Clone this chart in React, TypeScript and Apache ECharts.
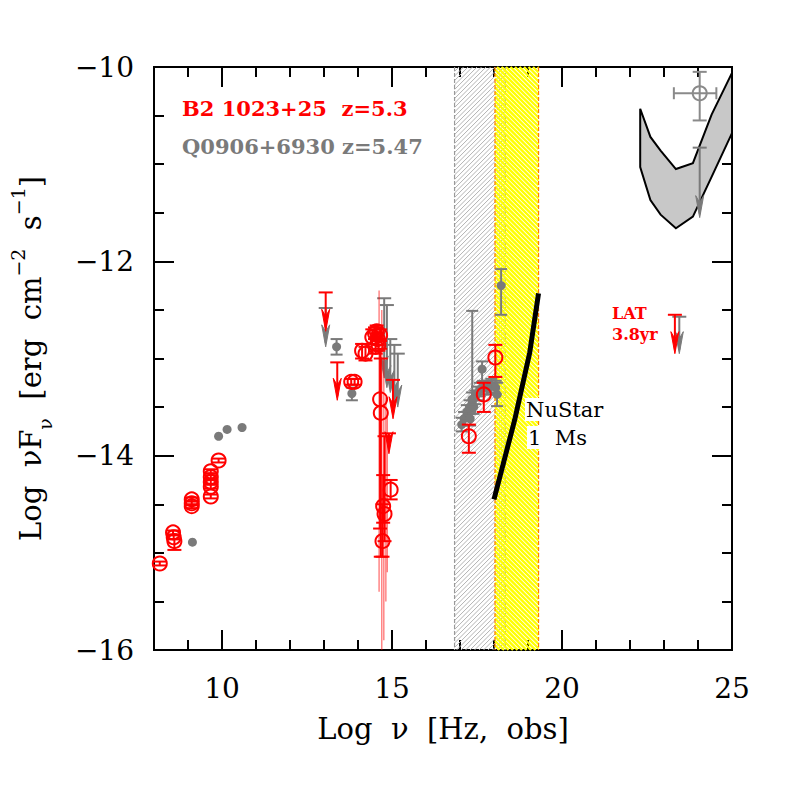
import React, { useEffect, useRef } from 'react';
import * as echarts from 'echarts';

// ---- axis ticks ----
const xMinorTicks = [8, 9, 10, 11, 12, 13, 14, 15, 16, 17, 18, 19, 20, 21, 22, 23, 24, 25];
const xMajorTicks = [10, 15, 20, 25];
const yMinorTicks = [-16, -15.5, -15, -14.5, -14, -13.5, -13, -12.5, -12, -11.5, -11, -10.5, -10];
const yMajorTicks = [-16, -14, -12, -10];

// ---- shaded bands [xStart, xEnd] : Swift/XRT-like (gray), NuSTAR (yellow) ----
const grayBand = [16.84, 18.33];
const yellowBand = [18.03, 19.31];

// ---- B2 1023+25 (red open circles): [logNu, logNuFnu, low, high] ----
const redPoints = [
  [8.17, -15.11, -15.13, -15.09],
  [8.56, -14.79, -14.81, -14.77],
  [8.58, -14.84, -14.86, -14.82],
  [8.6, -14.88, -14.97, -14.86],
  [9.11, -14.45, -14.47, -14.43],
  [9.11, -14.49, -14.51, -14.47],
  [9.11, -14.52, -14.54, -14.5],
  [9.67, -14.16, -14.18, -14.14],
  [9.67, -14.22, -14.24, -14.2],
  [9.67, -14.27, -14.29, -14.25],
  [9.67, -14.32, -14.34, -14.3],
  [9.67, -14.42, -14.44, -14.4],
  [9.9, -14.05, -14.07, -14.03],
  [13.8, -13.24, -13.27, -13.21],
  [13.9, -13.24, -13.27, -13.21],
  [14.12, -12.92, -13.0, -12.85],
  [14.22, -12.95, -13.02, -12.88],
  [14.42, -12.78, -12.85, -12.7],
  [14.5, -12.74, -12.8, -12.68],
  [14.55, -12.72, -12.78, -12.66],
  [14.58, -12.8, -12.86, -12.74],
  [14.6, -12.86, -12.92, -12.8],
  [14.52, -12.88, -12.95, -12.8],
  [14.65, -12.76, -12.82, -12.7],
  [14.65, -13.42, -14.75, -12.9],
  [14.67, -13.56, -15.04, -13.0],
  [14.74, -14.52, -14.69, -14.2],
  [14.72, -14.88, -15.04, -14.5],
  [14.96, -14.35, -14.45, -14.25],
  [14.78, -14.6, -14.88, -13.8],
  [17.26, -13.8, -13.97, -13.68],
  [17.7, -13.37, -13.55, -13.25],
  [18.04, -12.99, -13.19, -12.86],
];

// red upper limits: [logNu, cap, arrow tip]
const redUpperLimits = [
  [13.05, -12.32, -12.72],
  [13.39, -13.04, -13.43],
  [15.03, -13.22, -13.62],
  [14.91, -13.77, -13.98],
  [23.32, -12.55, -12.95],
];

// faint red error lines: [logNu, top, bottom]
const redFaintLines = [
  [14.62, -12.3, -15.4],
  [14.7, -12.5, -16.0],
  [14.76, -13.0, -15.9],
  [14.82, -13.4, -15.5],
  [14.86, -13.6, -15.2],
];

// ---- Q0906+6930 (gray filled dots): [logNu, logNuFnu, low, high, xLow, xHigh] ----
const grayPoints = [
  [9.13, -14.89, -14.89, -14.89, 9.13, 9.13],
  [9.9, -13.8, -13.8, -13.8, 9.9, 9.9],
  [10.15, -13.73, -13.73, -13.73, 10.15, 10.15],
  [10.59, -13.71, -13.71, -13.71, 10.59, 10.59],
  [13.37, -12.88, -12.96, -12.8, 13.37, 13.37],
  [13.82, -13.36, -13.43, -13.3, 13.82, 13.82],
  [18.21, -12.25, -12.55, -12.08, 18.21, 18.21],
  [17.36, -13.45, -13.5, -12.51, 17.36, 17.36],
  [17.65, -13.11, -13.24, -13.03, 17.55, 17.75],
  [18.09, -13.37, -13.49, -13.25, 17.95, 18.2],
  [17.05, -13.68, -13.75, -13.61, 16.98, 17.12],
  [17.12, -13.62, -13.69, -13.55, 17.05, 17.19],
  [17.2, -13.55, -13.62, -13.48, 17.13, 17.27],
  [17.28, -13.5, -13.57, -13.43, 17.21, 17.35],
  [17.3, -13.62, -13.69, -13.55, 17.23, 17.37],
  [17.35, -13.42, -13.49, -13.35, 17.28, 17.42],
  [17.4, -13.5, -13.57, -13.43, 17.33, 17.47],
  [17.45, -13.4, -13.47, -13.33, 17.38, 17.52],
  [17.5, -13.36, -13.43, -13.29, 17.43, 17.57],
  [17.58, -13.32, -13.39, -13.25, 17.5, 17.66],
  [17.68, -13.3, -13.37, -13.23, 17.6, 17.76],
  [17.8, -13.3, -13.37, -13.23, 17.72, 17.88],
  [17.92, -13.28, -13.35, -13.21, 17.84, 18.0],
  [18.05, -13.3, -13.37, -13.23, 17.97, 18.13],
];

// gray open circle (gamma-ray): [logNu, logNuFnu, low, high, xLow, xHigh]
const grayOpenPoints = [[24.05, -10.27, -10.55, -10.05, 23.29, 24.54]];

// gray upper limits: [logNu, cap, arrow tip]
const grayUpperLimits = [
  [13.05, -12.48, -12.88],
  [14.77, -12.38, -13.2],
  [14.85, -12.45, -13.3],
  [14.95, -12.8, -13.35],
  [15.07, -12.86, -13.45],
  [15.17, -12.95, -13.5],
  [23.45, -12.57, -12.95],
  [24.05, -10.83, -11.55],
];

// ---- NuSTAR 1 Ms sensitivity ----
const nustarX = [18.0, 18.61, 19.05, 19.31];
const nustarY = [-14.45, -13.63, -12.94, -12.33];

// ---- Fermi/LAT sensitivity band ----
const latX = [22.3, 22.6, 22.9, 23.35, 23.85, 24.4, 25.0];
const latUpper = [-10.43, -10.72, -10.86, -11.05, -10.99, -10.49, -10.06];
const latLower = [-11.03, -11.37, -11.52, -11.66, -11.54, -11.13, -10.68];

const RED = '#ff0000';
const GRAY = '#7a7a7a';
const SERIF = '"DejaVu Serif", serif';

function hatch(x0: number, x1: number, top: number, bottom: number, dir: number, step: number, style: any) {
  const out: any[] = [];
  if (dir > 0) {
    for (let c = x0 + top; c <= x1 + bottom; c += step) {
      const xa = Math.max(x0, c - bottom);
      const xb = Math.min(x1, c - top);
      if (xb <= xa) continue;
      out.push({ type: 'line', shape: { x1: xa, y1: c - xa, x2: xb, y2: c - xb }, style, silent: true });
    }
  } else {
    for (let c = x0 - bottom; c <= x1 - top; c += step) {
      const xa = Math.max(x0, c + top);
      const xb = Math.min(x1, c + bottom);
      if (xb <= xa) continue;
      out.push({ type: 'line', shape: { x1: xa, y1: xa - c, x2: xb, y2: xb - c }, style, silent: true });
    }
  }
  return out;
}

function bandRenderer(kind: 'gray' | 'yellow') {
  return (params: any, api: any) => {
    const a = api.coord([api.value(0), -10]);
    const b = api.coord([api.value(1), -16]);
    const x0 = a[0], x1 = b[0], top = a[1], bottom = b[1];
    const children: any[] = [];
    if (kind === 'gray') {
      children.push(...hatch(x0, x1, top, bottom, 1, 4.5, { stroke: '#b4b4b4', lineWidth: 1 }));
      const edge = { stroke: '#999999', lineWidth: 1.2, lineDash: [4, 2] };
      children.push({ type: 'line', shape: { x1: x0, y1: top, x2: x0, y2: bottom }, style: edge });
      children.push({ type: 'line', shape: { x1: x1, y1: top, x2: x1, y2: bottom }, style: edge });
    } else {
      children.push(...hatch(x0, x1, top, bottom, -1, 4.5, { stroke: '#ffff00', lineWidth: 2.4 }));
      const edge = { stroke: '#ff7a00', lineWidth: 1.2, lineDash: [4, 2] };
      children.push({ type: 'line', shape: { x1: x0, y1: top, x2: x0, y2: bottom }, style: edge });
      children.push({ type: 'line', shape: { x1: x1, y1: top, x2: x1, y2: bottom }, style: edge });
    }
    return { type: 'group', children };
  };
}

function openCircleRenderer(color: string, withX: boolean) {
  return (params: any, api: any) => {
    const x = api.value(0), y = api.value(1), lo = api.value(2), hi = api.value(3);
    const c = api.coord([x, y]);
    const pl = api.coord([x, lo]);
    const ph = api.coord([x, hi]);
    const st = { stroke: color, lineWidth: 2, fill: null };
    const children: any[] = [];
    children.push({ type: 'line', shape: { x1: c[0], y1: ph[1], x2: c[0], y2: pl[1] }, style: st });
    children.push({ type: 'line', shape: { x1: c[0] - 7, y1: ph[1], x2: c[0] + 7, y2: ph[1] }, style: st });
    children.push({ type: 'line', shape: { x1: c[0] - 7, y1: pl[1], x2: c[0] + 7, y2: pl[1] }, style: st });
    if (withX) {
      const xl = api.coord([api.value(4), y]);
      const xh = api.coord([api.value(5), y]);
      children.push({ type: 'line', shape: { x1: xl[0], y1: c[1], x2: xh[0], y2: c[1] }, style: st });
      children.push({ type: 'line', shape: { x1: xl[0], y1: c[1] - 6, x2: xl[0], y2: c[1] + 6 }, style: st });
      children.push({ type: 'line', shape: { x1: xh[0], y1: c[1] - 6, x2: xh[0], y2: c[1] + 6 }, style: st });
    }
    children.push({ type: 'circle', shape: { cx: c[0], cy: c[1], r: 7 }, style: { stroke: color, lineWidth: 2, fill: 'none' } });
    return { type: 'group', children };
  };
}

function dotRenderer(color: string) {
  return (params: any, api: any) => {
    const x = api.value(0), y = api.value(1), lo = api.value(2), hi = api.value(3);
    const c = api.coord([x, y]);
    const pl = api.coord([x, lo]);
    const ph = api.coord([x, hi]);
    const xl = api.coord([api.value(4), y]);
    const xh = api.coord([api.value(5), y]);
    const st = { stroke: color, lineWidth: 2 };
    const children: any[] = [];
    if (Math.abs(pl[1] - ph[1]) > 1) {
      children.push({ type: 'line', shape: { x1: c[0], y1: ph[1], x2: c[0], y2: pl[1] }, style: st });
      children.push({ type: 'line', shape: { x1: c[0] - 6, y1: ph[1], x2: c[0] + 6, y2: ph[1] }, style: st });
      children.push({ type: 'line', shape: { x1: c[0] - 6, y1: pl[1], x2: c[0] + 6, y2: pl[1] }, style: st });
    }
    if (Math.abs(xh[0] - xl[0]) > 1) {
      children.push({ type: 'line', shape: { x1: xl[0], y1: c[1], x2: xh[0], y2: c[1] }, style: st });
    }
    children.push({ type: 'circle', shape: { cx: c[0], cy: c[1], r: 4.5 }, style: { fill: color, stroke: null } });
    return { type: 'group', children };
  };
}

function upperLimitRenderer(color: string) {
  return (params: any, api: any) => {
    const x = api.value(0);
    const cap = api.coord([x, api.value(1)]);
    const tip = api.coord([x, api.value(2)]);
    const st = { stroke: color, lineWidth: 2 };
    return {
      type: 'group',
      children: [
        { type: 'line', shape: { x1: cap[0] - 7, y1: cap[1], x2: cap[0] + 7, y2: cap[1] }, style: st },
        { type: 'line', shape: { x1: cap[0], y1: cap[1], x2: tip[0], y2: tip[1] - 4 }, style: st },
        {
          type: 'polygon',
          shape: { points: [[tip[0] - 4, tip[1] - 22], [tip[0], tip[1] - 15], [tip[0] + 4, tip[1] - 22], [tip[0], tip[1]]] },
          style: { fill: color, stroke: color, lineWidth: 1 },
        },
      ],
    };
  };
}

function faintLineRenderer(params: any, api: any) {
  const x = api.value(0);
  const a = api.coord([x, api.value(1)]);
  const b = api.coord([x, api.value(2)]);
  return { type: 'line', shape: { x1: a[0], y1: a[1], x2: b[0], y2: b[1] }, style: { stroke: 'rgba(255,0,0,0.6)', lineWidth: 1.2 } };
}

function latRenderer(params: any, api: any) {
  const pts: number[][] = [];
  for (let i = 0; i < latX.length; i++) pts.push(api.coord([latX[i], latUpper[i]]));
  for (let i = latX.length - 1; i >= 0; i--) pts.push(api.coord([latX[i], latLower[i]]));
  return { type: 'polygon', shape: { points: pts }, style: { fill: '#c8c8c8', stroke: '#000', lineWidth: 2 } };
}

function axisTickAxis(kind: 'x' | 'y', position: string, ticks: number[], length: number, labels: boolean, extra: any = {}) {
  const base: any = {
    type: 'value',
    position,
    min: kind === 'x' ? 8 : -16,
    max: kind === 'x' ? 25 : -10,
    splitLine: { show: false },
    axisLine: { show: true, onZero: false, lineStyle: { color: '#000', width: 2 } },
    axisTick: { show: true, inside: true, length, customValues: ticks, lineStyle: { color: '#000', width: 2 } },
    axisLabel: labels
      ? {
          show: true,
          customValues: kind === 'x' ? xMajorTicks : yMajorTicks,
          fontFamily: SERIF,
          fontSize: 28,
          color: '#000',
          margin: kind === 'x' ? 24 : 20,
          formatter: (v: number) => (v < 0 ? '\u2212' + Math.abs(v) : String(v)),
        }
      : { show: false },
  };
  return Object.assign(base, extra);
}

export default function App() {
  const ref = useRef<HTMLDivElement>(null);
  useEffect(() => {
    if (!ref.current) return;
    const chart = echarts.init(ref.current, null, { renderer: 'svg' });
    const option: any = {
      animation: false,
      backgroundColor: '#ffffff',
      grid: { left: 148, right: 65, top: 67, bottom: 147 },
      xAxis: [
        axisTickAxis('x', 'bottom', xMinorTicks, 10, true, {
          name: 'Log  \u03bd  [Hz,  obs]',
          nameLocation: 'middle',
          nameGap: 64,
          nameTextStyle: { fontFamily: SERIF, fontSize: 29, color: '#000' },
        }),
        axisTickAxis('x', 'bottom', xMajorTicks, 20, false),
        axisTickAxis('x', 'top', xMinorTicks, 10, false),
        axisTickAxis('x', 'top', xMajorTicks, 20, false),
      ],
      yAxis: [
        axisTickAxis('y', 'left', yMinorTicks, 10, true, {
          name: 'Log  \u03bdF{sub|\u03bd}  [erg  cm{sup|\u22122}  s{sup|\u22121}]',
          nameLocation: 'middle',
          nameRotate: 90,
          nameGap: 100,
          nameTextStyle: {
            fontFamily: SERIF,
            fontSize: 29,
            color: '#000',
            lineHeight: 38,
            rich: {
              sub: { fontFamily: SERIF, fontSize: 19, verticalAlign: 'bottom', lineHeight: 30, color: '#000' },
              sup: { fontFamily: SERIF, fontSize: 19, verticalAlign: 'top', lineHeight: 46, color: '#000' },
            },
          },
        }),
        axisTickAxis('y', 'left', yMajorTicks, 20, false),
        axisTickAxis('y', 'right', yMinorTicks, 10, false),
        axisTickAxis('y', 'right', yMajorTicks, 20, false),
      ],
      series: [
        { type: 'custom', name: 'grayBand', renderItem: bandRenderer('gray'), data: [grayBand], z: 1, silent: true },
        { type: 'custom', name: 'yellowBand', renderItem: bandRenderer('yellow'), data: [yellowBand], z: 1, silent: true },
        { type: 'custom', name: 'LAT', renderItem: latRenderer, data: [[latX[0], latUpper[0]]], z: 2, silent: true },
        { type: 'custom', name: 'grayUL', renderItem: upperLimitRenderer(GRAY), data: grayUpperLimits, z: 3 },
        { type: 'custom', name: 'grayDots', renderItem: dotRenderer(GRAY), data: grayPoints, z: 3 },
        { type: 'custom', name: 'grayOpen', renderItem: openCircleRenderer('#8a8a8a', true), data: grayOpenPoints, z: 3 },
        { type: 'custom', name: 'redFaint', renderItem: faintLineRenderer, data: redFaintLines, z: 4 },
        { type: 'custom', name: 'redUL', renderItem: upperLimitRenderer(RED), data: redUpperLimits, z: 5 },
        { type: 'custom', name: 'redPts', renderItem: openCircleRenderer(RED, false), data: redPoints, z: 5 },
        {
          type: 'line',
          name: 'NuSTAR',
          data: nustarX.map((x, i) => [x, nustarY[i]]),
          symbol: 'none',
          lineStyle: { color: '#000', width: 5 },
          z: 6,
        },
      ],
      graphic: [
        { type: 'text', left: 182, top: 98, z: 10, style: { text: 'B2 1023+25  z=5.3', fill: RED, font: 'bold 21px "DejaVu Serif"' } },
        { type: 'text', left: 182, top: 136, z: 10, style: { text: 'Q0906+6930 z=5.47', fill: GRAY, font: 'bold 21px "DejaVu Serif"' } },
        { type: 'text', left: 612, top: 305, z: 10, style: { text: 'LAT', fill: RED, font: 'bold 16px "DejaVu Serif"' } },
        { type: 'text', left: 612, top: 326, z: 10, style: { text: '3.8yr', fill: RED, font: 'bold 16px "DejaVu Serif"' } },
        { type: 'text', left: 525, top: 398, z: 10, style: { text: 'NuStar', fill: '#000', font: '21px "DejaVu Serif"', backgroundColor: '#fff', padding: [1, 1, 1, 1] } },
        { type: 'text', left: 527, top: 426, z: 10, style: { text: '1  Ms', fill: '#000', font: '21px "DejaVu Serif"', backgroundColor: '#fff', padding: [1, 1, 1, 1] } },
      ],
    };
    chart.setOption(option);
    return () => chart.dispose();
  }, []);
  return <div ref={ref} style={{ position: 'absolute', left: 0, top: 0, width: 797, height: 797, background: '#fff' }} />;
}
